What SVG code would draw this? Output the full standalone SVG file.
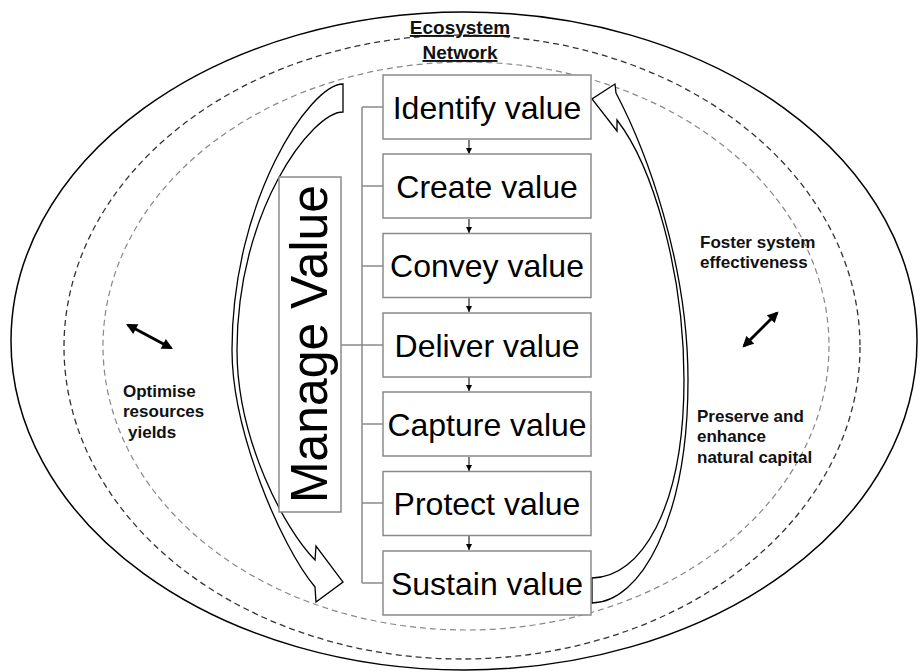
<svg xmlns="http://www.w3.org/2000/svg" width="921" height="672" viewBox="0 0 921 672">
<defs>
<style>
.box{fill:#fff;stroke:#8a8a8a;stroke-width:1.5}
.bt{font-family:"Liberation Sans",Arial,sans-serif;font-size:32px;fill:#000;text-anchor:middle}
.lbl{font-family:"Liberation Sans",Arial,sans-serif;font-size:17px;font-weight:bold;fill:#111}
.ttl{font-family:"Liberation Sans",Arial,sans-serif;font-size:19px;font-weight:bold;fill:#111;text-anchor:middle;text-decoration:underline}
.brk{fill:none;stroke:#8a8a8a;stroke-width:1.5}
.step{stroke:#000;stroke-width:1;marker-end:url(#sm)}
.big{fill:#fff;stroke:#000;stroke-width:1.3;stroke-linejoin:miter}
.dbl{stroke:#000;stroke-width:3;marker-start:url(#hd);marker-end:url(#hd)}
</style>
<marker id="sm" viewBox="0 0 10 10" refX="10" refY="5" markerWidth="6" markerHeight="7" markerUnits="userSpaceOnUse" orient="auto"><path d="M0,0 L10,5 L0,10 z" fill="#000"/></marker>
<marker id="hd" viewBox="0 0 10 10" refX="8" refY="5" markerWidth="12" markerHeight="11" markerUnits="userSpaceOnUse" orient="auto-start-reverse"><path d="M0,0 L10,5 L0,10 z" fill="#000"/></marker>
</defs>
<rect width="921" height="672" fill="#fff"/>
<g id="ecosystem">
<ellipse cx="464" cy="341" rx="453" ry="329" fill="none" stroke="#000" stroke-width="1.5"/>
<ellipse cx="462" cy="347" rx="398" ry="312" fill="none" stroke="#333" stroke-width="1.3" stroke-dasharray="6,4"/>
<ellipse cx="466" cy="346" rx="363" ry="284" fill="none" stroke="#888" stroke-width="1.2" stroke-dasharray="6,4"/>
<text class="ttl" x="460" y="34">Ecosystem</text>
<text class="ttl" x="460" y="59">Network</text>
</g>
<g id="curved-arrows">
<path class="big" d="M343,84 L343,112 C312,112 237,210 237,350 C237,440 285,530 315,560 L316,546 L343,582 L316,602 L315,587 C280,545 232,430 232,350 C232,200 310,84 343,84 Z"/>
<path class="big" d="M592,578 L592,603 C640,603 688,520 688,380 C688,262 646,150 616,93 L615,84 L592,99 L617,131 L617,120 C652,165 684,270 684,380 C684,510 640,578 592,578 Z"/>
</g>
<g id="connectors">
<path class="brk" d="M341,345 H362 M362,107 V583 M362,107 H383 M362,186 H383 M362,266 H383 M362,345 H383 M362,424 H383 M362,503 H383 M362,583 H383"/>
<line class="step" x1="469" y1="140" x2="469" y2="154"/>
<line class="step" x1="469" y1="219" x2="469" y2="233"/>
<line class="step" x1="469" y1="298" x2="469" y2="312"/>
<line class="step" x1="469" y1="377" x2="469" y2="391"/>
<line class="step" x1="469" y1="457" x2="469" y2="471"/>
<line class="step" x1="469" y1="536" x2="469" y2="550"/>
<line class="dbl" x1="128" y1="325" x2="171" y2="348"/>
<line class="dbl" x1="744" y1="346" x2="777" y2="313"/>
</g>
<g id="manage-value">
<rect class="box" x="279" y="177" width="62" height="335"/>
<text class="bt" transform="translate(327,344) rotate(-90)" x="0" y="0" style="font-size:52px" textLength="318" lengthAdjust="spacingAndGlyphs">Manage Value</text>
</g>
<g id="identify"><rect class="box" x="383" y="75" width="208" height="64"/><text class="bt" x="487" y="118.5">Identify value</text></g>
<g id="create"><rect class="box" x="383" y="154" width="208" height="64"/><text class="bt" x="487" y="197.5">Create value</text></g>
<g id="convey"><rect class="box" x="383" y="233.5" width="208" height="64"/><text class="bt" x="487" y="277">Convey value</text></g>
<g id="deliver"><rect class="box" x="383" y="313" width="208" height="64"/><text class="bt" x="487" y="356.5">Deliver value</text></g>
<g id="capture"><rect class="box" x="383" y="392" width="208" height="64"/><text class="bt" x="487" y="435.5">Capture value</text></g>
<g id="protect"><rect class="box" x="383" y="471.5" width="208" height="64"/><text class="bt" x="487" y="515">Protect value</text></g>
<g id="sustain"><rect class="box" x="383" y="551" width="208" height="64"/><text class="bt" x="487" y="594.5">Sustain value</text></g>
<g id="labels">
<text class="lbl" x="123" y="397">Optimise</text>
<text class="lbl" x="123" y="417">resources</text>
<text class="lbl" x="128" y="438">yields</text>
<text class="lbl" x="700" y="248">Foster system</text>
<text class="lbl" x="700" y="268">effectiveness</text>
<text class="lbl" x="697" y="422">Preserve and</text>
<text class="lbl" x="697" y="442">enhance</text>
<text class="lbl" x="697" y="463">natural capital</text>
</g>
</svg>
